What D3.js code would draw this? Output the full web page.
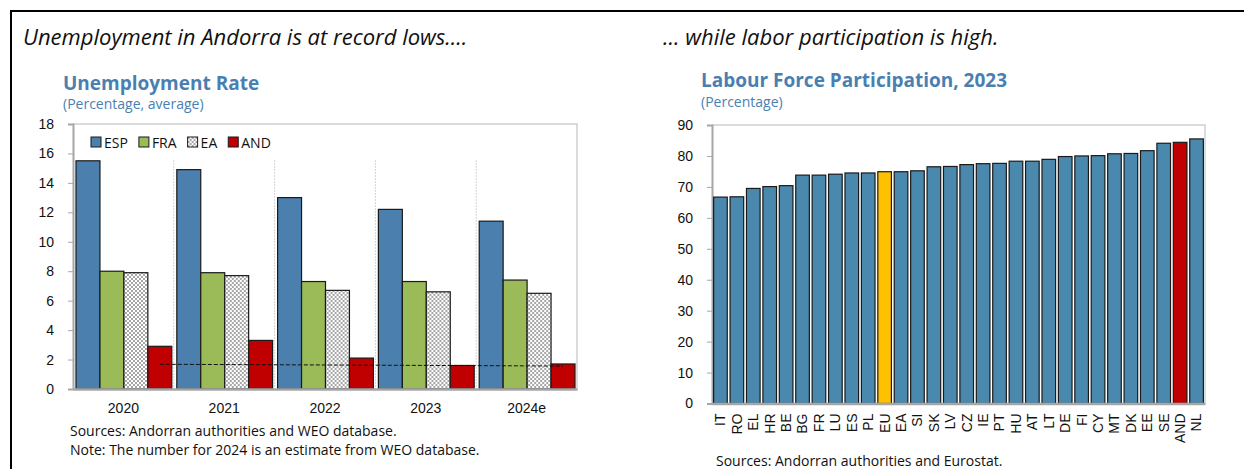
<!DOCTYPE html>
<html>
<head>
<meta charset="utf-8">
<script src="https://cdn.jsdelivr.net/npm/d3@7"></script>
<style>
  html, body { margin: 0; padding: 0; background: #fff; }
  svg { display: block; font-family: "Segoe UI", "Open Sans", "Noto Sans", sans-serif; }
</style>
</head>
<body>
<svg id="chart" width="1244" height="469"></svg>
<script>
// ---- Unemployment rate by year (percent) ----
const years = ["2020", "2021", "2022", "2023", "2024e"];
const seriesNames = ["ESP", "FRA", "EA", "AND"];
const esp = [15.5, 14.9, 13.0, 12.2, 11.4];
const fra = [8.0, 7.9, 7.3, 7.3, 7.4];
const ea  = [7.9, 7.7, 6.7, 6.6, 6.5];
const and = [2.9, 3.3, 2.1, 1.6, 1.7];
// dashed reference line for Andorra, first to last year
const andRefYears = ["2020", "2024e"];
const andRefLevel = [1.68, 1.56];
const unempTicks = [0, 2, 4, 6, 8, 10, 12, 14, 16, 18];

// ---- Labour force participation 2023 (percent) ----
const countries = ["IT","RO","EL","HR","BE","BG","FR","LU","ES","PL","EU","EA","SI","SK","LV","CZ","IE","PT","HU","AT","LT","DE","FI","CY","MT","DK","EE","SE","AND","NL"];
const participation = [66.7, 66.8, 69.5, 70.1, 70.4, 73.8, 73.8, 74.1, 74.5, 74.5, 74.9, 74.9, 75.2, 76.5, 76.6, 77.2, 77.5, 77.6, 78.3, 78.3, 78.9, 79.8, 80.0, 80.1, 80.7, 80.8, 81.7, 84.1, 84.4, 85.5];
const partTicks = [0, 10, 20, 30, 40, 50, 60, 70, 80, 90];

const colors = { ESP: "#4a7fae", FRA: "#9bbb59", AND: "#c00000" };
const partColor = "#4a89ad", euColor = "#ffc000", andColor = "#c00000";
const titleBlue = "#4a7fb2";

const svg = d3.select("#chart");

// checkered fill for the euro-area series
const defs = svg.append("defs");
const checker = defs.append("pattern").attr("id", "checker")
  .attr("width", 4).attr("height", 4).attr("patternUnits", "userSpaceOnUse");
checker.append("rect").attr("width", 4).attr("height", 4).attr("fill", "#ffffff");
checker.append("rect").attr("width", 2).attr("height", 2).attr("fill", "#a6a6a6");
checker.append("rect").attr("x", 2).attr("y", 2).attr("width", 2).attr("height", 2).attr("fill", "#a6a6a6");

const fills = { ESP: colors.ESP, FRA: colors.FRA, EA: "url(#checker)", AND: colors.AND };

// outer frame lines
svg.append("line").attr("x1", 11).attr("x2", 1244).attr("y1", 11).attr("y2", 11)
  .attr("stroke", "#000").attr("stroke-width", 2);
svg.append("line").attr("x1", 11).attr("x2", 11).attr("y1", 10).attr("y2", 469)
  .attr("stroke", "#000").attr("stroke-width", 2);

// headlines
svg.append("text").attr("x", 23).attr("y", 45).attr("font-size", 22).attr("font-style", "italic")
  .attr("fill", "#111").text("Unemployment in Andorra is at record lows....");
svg.append("text").attr("x", 663).attr("y", 45).attr("font-size", 22).attr("font-style", "italic")
  .attr("fill", "#111").text("... while labor participation is high.");

// ===================== Left panel =====================
const L = { left: 73, right: 577, top: 124, bottom: 389 };
const x0 = d3.scaleBand().domain(years).range([L.left, L.right]).padding(0);
const x1 = d3.scaleBand().domain(seriesNames).range([3, x0.bandwidth() - 2]).padding(0);
const yL = d3.scaleLinear().domain([0, 18]).range([L.bottom, L.top]);

svg.append("text").attr("x", 63).attr("y", 90).attr("font-size", 19).attr("font-weight", "bold")
  .attr("fill", titleBlue).text("Unemployment Rate");
svg.append("text").attr("x", 63).attr("y", 109).attr("font-size", 14)
  .attr("fill", titleBlue).text("(Percentage, average)");

// plot frame (top and right)
svg.append("path")
  .attr("d", `M${L.left},${L.top}H${L.right}V${L.bottom}`)
  .attr("fill", "none").attr("stroke", "#cfcfcf").attr("stroke-width", 1.5);

// group dividers
svg.append("g").selectAll("line").data(years.slice(1)).join("line")
  .attr("x1", d => x0(d)).attr("x2", d => x0(d))
  .attr("y1", 160).attr("y2", L.bottom)
  .attr("stroke", "#d4d4d4").attr("stroke-width", 1).attr("stroke-dasharray", "2,1");

// y axis
const yAxisL = svg.append("g").attr("transform", `translate(${L.left},0)`)
  .call(d3.axisLeft(yL).tickValues(unempTicks).tickSize(5).tickPadding(14));
yAxisL.select(".domain").attr("stroke", "#a6a6a6").attr("stroke-width", 2);
yAxisL.selectAll(".tick line").attr("stroke", "#a6a6a6");
yAxisL.selectAll("text").attr("font-size", 14).attr("fill", "#111").attr("font-family", null);

// bars
const unempRows = years.map((yr, i) => ({ year: yr, values: { ESP: esp[i], FRA: fra[i], EA: ea[i], AND: and[i] } }));
svg.append("g").selectAll("g").data(unempRows).join("g")
  .attr("transform", d => `translate(${x0(d.year)},0)`)
  .selectAll("rect").data(d => seriesNames.map(k => ({ key: k, value: d.values[k] }))).join("rect")
  .attr("x", d => x1(d.key)).attr("width", x1.bandwidth())
  .attr("y", d => yL(d.value)).attr("height", d => yL(0) - yL(d.value))
  .attr("fill", d => fills[d.key]).attr("stroke", "#1a1a1a").attr("stroke-width", 1.2);

// x axis
const xAxisL = svg.append("g").attr("transform", `translate(0,${L.bottom})`)
  .call(d3.axisBottom(x0).tickSize(0).tickPadding(14));
xAxisL.select(".domain").attr("stroke", "#a6a6a6").attr("stroke-width", 2.5);
xAxisL.selectAll("text").attr("font-size", 14).attr("fill", "#111").attr("font-family", null);

// dashed reference line
const refLine = d3.line()
  .x((d, i) => x0(andRefYears[i]) + x1("AND") + x1.bandwidth() / 2)
  .y(d => yL(d));
svg.append("path").datum(andRefLevel).attr("d", refLine)
  .attr("fill", "none").attr("stroke", "#111").attr("stroke-width", 1).attr("stroke-dasharray", "4,2");

// legend
const legend = svg.append("g").attr("transform", "translate(91,137)");
let lx = 0;
seriesNames.forEach(k => {
  const g = legend.append("g").attr("transform", `translate(${lx},0)`);
  g.append("rect").attr("width", 10).attr("height", 10)
    .attr("fill", fills[k]).attr("stroke", "#1a1a1a").attr("stroke-width", 1);
  const t = g.append("text").attr("x", 13).attr("y", 10.5).attr("font-size", 14).attr("fill", "#111").text(k);
  lx += 13 + t.node().getComputedTextLength() + 11;
});

// notes
svg.append("text").attr("x", 70).attr("y", 436).attr("font-size", 14).attr("fill", "#111")
  .text("Sources: Andorran authorities and WEO database.");
svg.append("text").attr("x", 70).attr("y", 455).attr("font-size", 14).attr("fill", "#111")
  .text("Note: The number for 2024 is an estimate from WEO database.");

// ===================== Right panel =====================
const R = { left: 712, right: 1205, top: 125, bottom: 403.5 };
const xR = d3.scaleBand().domain(countries).range([R.left, R.right]).paddingInner(0.17).paddingOuter(0.1);
const yR = d3.scaleLinear().domain([0, 90]).range([R.bottom, R.top]);

svg.append("text").attr("x", 701).attr("y", 87).attr("font-size", 19).attr("font-weight", "bold")
  .attr("fill", titleBlue).text("Labour Force Participation, 2023");
svg.append("text").attr("x", 701).attr("y", 107).attr("font-size", 14)
  .attr("fill", titleBlue).text("(Percentage)");

svg.append("path")
  .attr("d", `M${R.left},${R.top}H${R.right}V${R.bottom}`)
  .attr("fill", "none").attr("stroke", "#cfcfcf").attr("stroke-width", 1.5);

const yAxisR = svg.append("g").attr("transform", `translate(${R.left},0)`)
  .call(d3.axisLeft(yR).tickValues(partTicks).tickSize(5).tickPadding(14));
yAxisR.select(".domain").attr("stroke", "#a6a6a6").attr("stroke-width", 2);
yAxisR.selectAll(".tick line").attr("stroke", "#a6a6a6");
yAxisR.selectAll("text").attr("font-size", 14).attr("fill", "#111").attr("font-family", null);

const partRows = countries.map((c, i) => ({ country: c, value: participation[i] }));
svg.append("g").selectAll("rect").data(partRows).join("rect")
  .attr("x", d => xR(d.country)).attr("width", xR.bandwidth())
  .attr("y", d => yR(d.value)).attr("height", d => yR(0) - yR(d.value))
  .attr("fill", d => d.country === "EU" ? euColor : d.country === "AND" ? andColor : partColor)
  .attr("stroke", "#1a1a1a").attr("stroke-width", 1.2);

const xAxisR = svg.append("g").attr("transform", `translate(0,${R.bottom})`)
  .call(d3.axisBottom(xR).tickSize(0).tickPadding(0));
xAxisR.select(".domain").attr("stroke", "#a6a6a6").attr("stroke-width", 2.5);
xAxisR.selectAll("text")
  .attr("font-size", 14).attr("fill", "#111").attr("font-family", null)
  .attr("transform", "rotate(-90)")
  .attr("text-anchor", "end").attr("dy", "0.35em").attr("x", -10).attr("y", 0);

svg.append("text").attr("x", 716).attr("y", 466).attr("font-size", 14).attr("fill", "#111")
  .text("Sources: Andorran authorities and Eurostat.");
</script>
</body>
</html>
